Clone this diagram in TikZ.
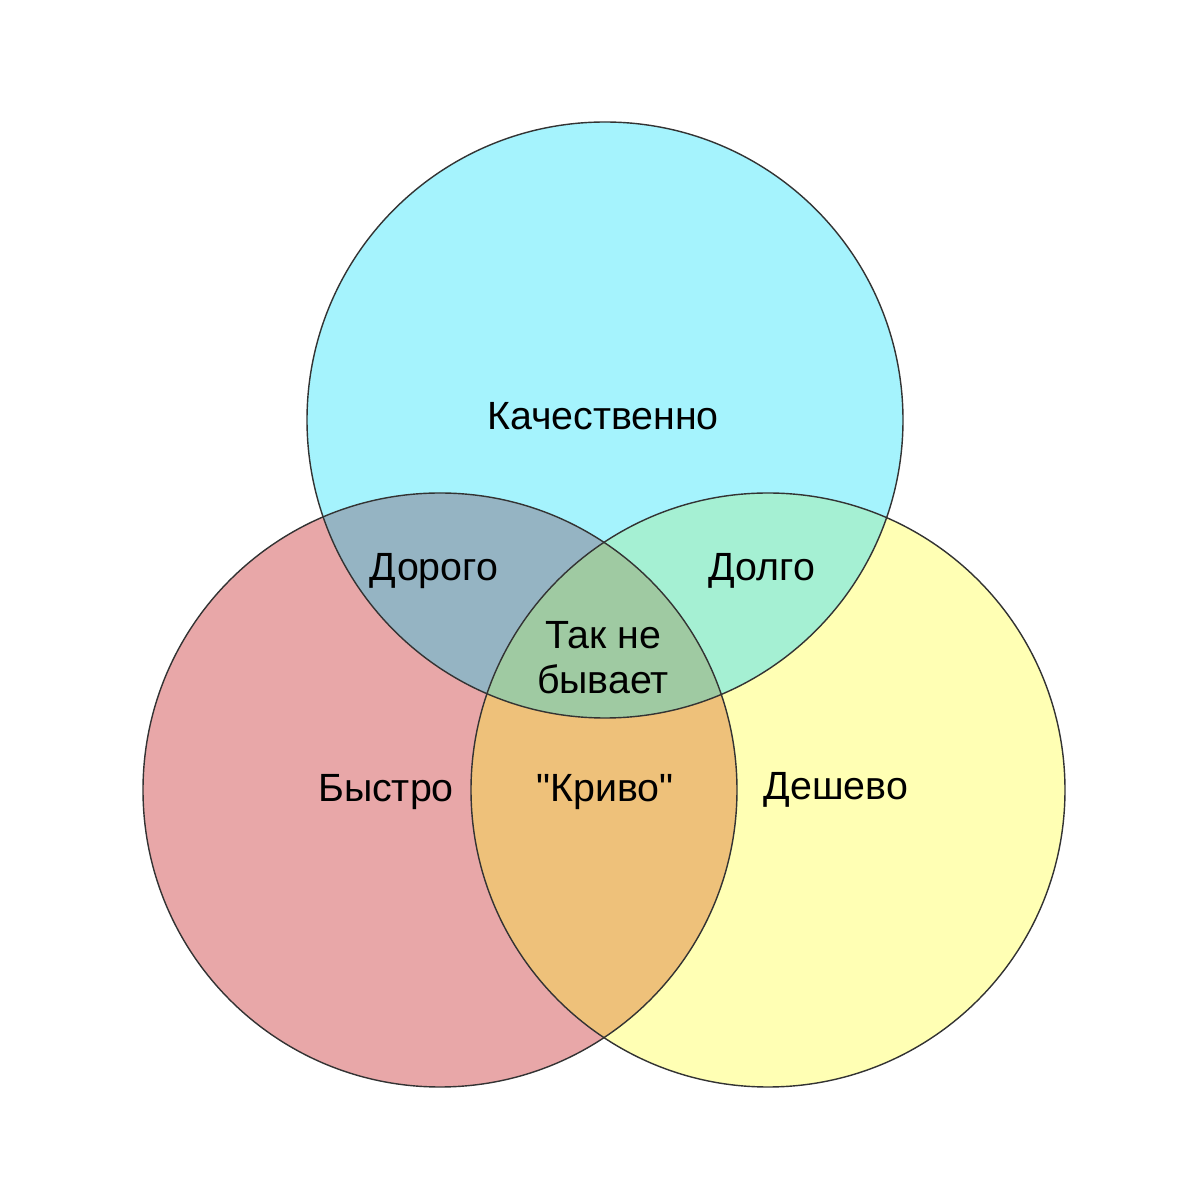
\documentclass[tikz,border=0pt]{standalone}
\usepackage{fontspec}
\setmainfont{Liberation Sans}[Ligatures=TeXOff]
\usepackage{xcolor}
\definecolor{quality}{HTML}{A5F3FD}
\definecolor{fast}{HTML}{E8A7A8}
\definecolor{cheap}{HTML}{FFFFB4}
\definecolor{costly}{HTML}{95B4C3}
\definecolor{slow}{HTML}{A5F0D3}
\definecolor{crooked}{HTML}{EEC17A}
\definecolor{never}{HTML}{9FCAA2}

\begin{document}
\begin{tikzpicture}[
    txt/.style = {font=\fontsize{11.2}{12.3}\selectfont, align=center}]

\useasboundingbox (0,0) rectangle (12,12);

% Set centres
\coordinate (Q) at (6.05,7.80);
\coordinate (F) at (4.40,4.10);
\coordinate (C) at (7.68,4.10);

% Sets
\fill[quality] (Q) circle(2.98cm);
\fill[fast] (F) circle(2.97cm);
\fill[cheap] (C) circle(2.97cm);

% Pairwise intersections
\begin{scope}
    \clip (Q) circle(2.98cm);
    \fill[costly] (F) circle(2.97cm);
    \fill[slow] (C) circle(2.97cm);
\end{scope}
\begin{scope}
    \clip (F) circle(2.97cm);
    \fill[crooked] (C) circle(2.97cm);
\end{scope}

% Triple intersection
\begin{scope}
    \clip (Q) circle(2.98cm);
    \clip (F) circle(2.97cm);
    \fill[never] (C) circle(2.97cm);
\end{scope}

% Circles outline
\draw[black!80, thin] (Q) circle(2.98cm);
\draw[black!80, thin] (F) circle(2.97cm);
\draw[black!80, thin] (C) circle(2.97cm);

% Labels
\node[txt] (q) at (6.03,7.84) {Качественно};
\node[txt] (f) at (3.86,4.08) {Быстро};
\node[txt] (c) at (8.36,4.10) {Дешево};
\node[txt] (qf) at (4.34,6.29) {Дорого};
\node[txt] (qc) at (7.62,6.29) {Долго};
\node[txt] (fc) at (6.05,4.08) {"Криво"};
\node[txt] (qfc) at (6.03,5.42) {Так не\\[0.02cm]бывает};
\end{tikzpicture}
\end{document}
